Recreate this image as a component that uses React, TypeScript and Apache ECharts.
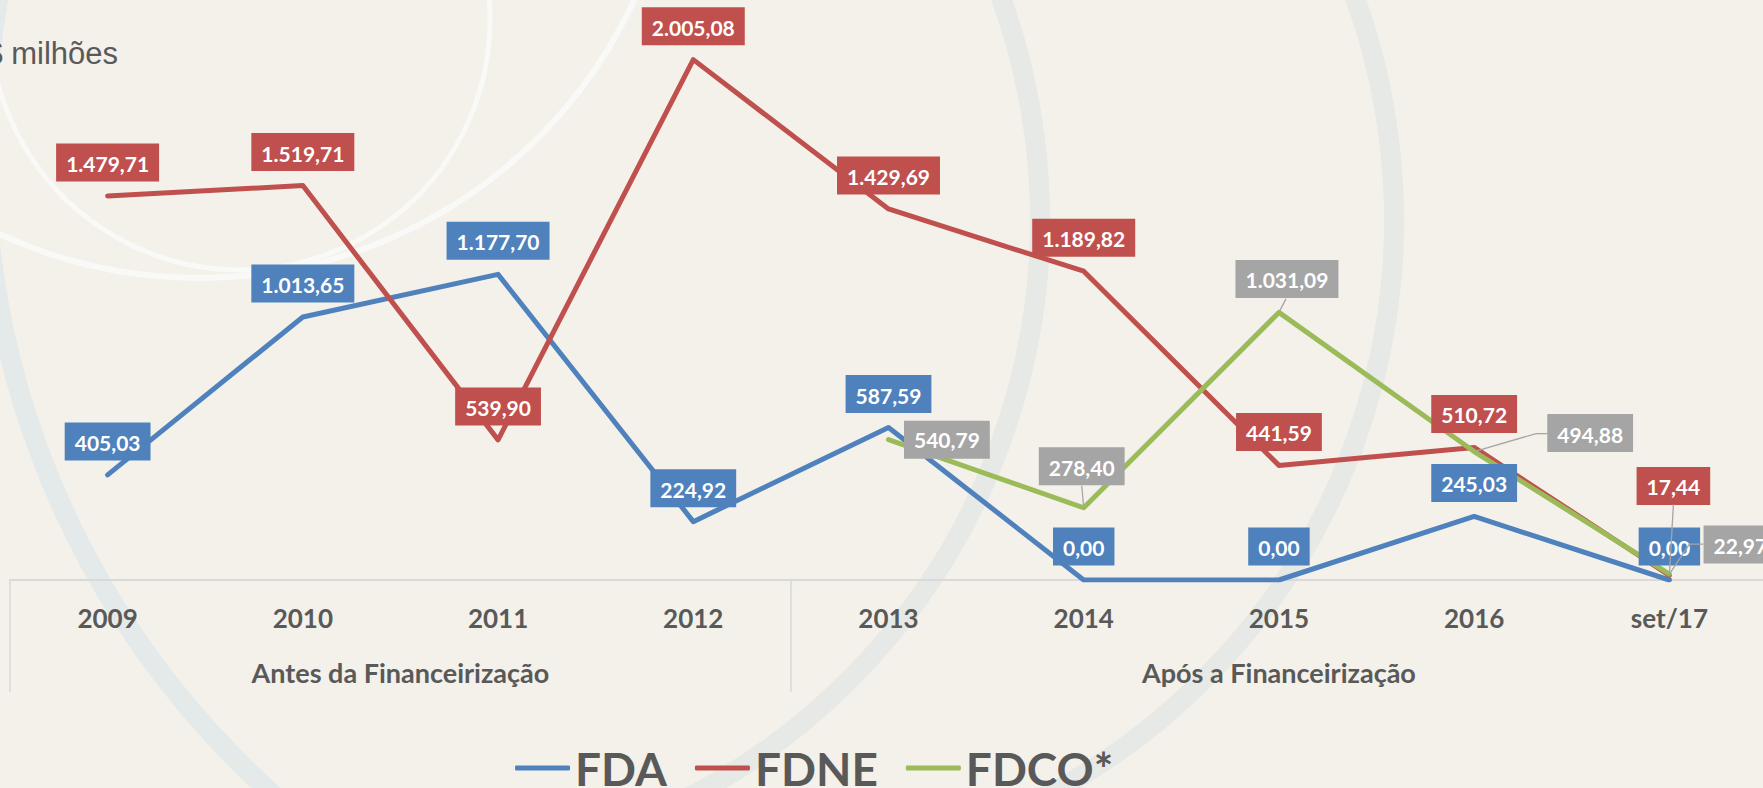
import React, { useEffect, useRef } from 'react';
import * as echarts from 'echarts';

// ---------- data ----------
const categories = ['2009', '2010', '2011', '2012', '2013', '2014', '2015', '2016', 'set/17'];
const groupLabels = ['Antes da Financeirização', 'Após a Financeirização'];
const groupCenters = [1.5, 6];
const groupBoundaries = [-0.5, 3.5, 8.5];
const seriesNames = ['FDA', 'FDNE', 'FDCO*'];
const fdaValues = [405.03, 1013.65, 1177.7, 224.92, 587.59, 0, 0, 245.03, 0];
const fdneValues = [1479.71, 1519.71, 539.9, 2005.08, 1429.69, 1189.82, 441.59, 510.72, 17.44];
const fdcoValues: (number | null)[] = [null, null, null, null, 540.79, 278.4, 1031.09, 494.88, 22.97];
const unitLabel = 'R$ milhões';

// ---------- styles ----------
const lineColors = ['#4F81BD', '#C0504D', '#9BBB59'];
const labelBg = ['#4F81BD', '#C0504D', '#A5A5A5'];
const textGray = '#595959';
const axisGray = '#D9D9D9';
const leaderGray = '#A5A5A5';
const bg = '#F3F1EA';

// per-point label placement (styles only): offsets in pixels relative to the default "top" spot,
// leader: polyline offsets in pixels relative to the data point
const labelTweaks: Record<string, Record<number, any>> = {
  'FDCO*': {
    4: { position: 'right', distance: 15 },
    5: { offset: [-2, -8], leader: [[0, 0], [-2, -22]] },
    6: { offset: [8, 0], leader: [[0, 0], [7, -13.5]] },
    7: { offset: [116, 15], leader: [[0, 0], [62, -18], [74, -18]] },
    8: { offset: [71, 4], leader: [[0, 0], [20, -30], [34, -30]] },
  },
  FDNE: {
    8: { offset: [4, -56], leader: [[0, 0], [4, -71]] },
  },
};

function fmt(v: number): string {
  const [i, d] = v.toFixed(2).split('.');
  return i.replace(/\B(?=(\d{3})+(?!\d))/g, '.') + ',' + d;
}

const allValues = [fdaValues, fdneValues, fdcoValues];

function buildData(values: (number | null)[], name: string) {
  return values.map((v, i) => {
    if (v == null) return '-';
    const t = labelTweaks[name] && labelTweaks[name][i];
    const item: any = { value: v };
    if (t) {
      item.label = {
        position: t.position || 'top',
        distance: t.distance != null ? t.distance : 14,
        offset: t.offset || [0, 0],
      };
    }
    return item;
  });
}

// leader definitions derived from the series values
const leaderPaths: number[][][] = [];
const leaderData: number[][] = [];
seriesNames.forEach((name, si) => {
  const tw = labelTweaks[name];
  if (!tw) return;
  Object.keys(tw).forEach((k) => {
    const idx = Number(k);
    if (tw[idx].leader) {
      const v = allValues[si][idx];
      if (v == null) return;
      leaderData.push([idx, v, leaderPaths.length]);
      leaderPaths.push(tw[idx].leader);
    }
  });
});

export default function App() {
  const ref = useRef<HTMLDivElement>(null);

  useEffect(() => {
    if (!ref.current) return;
    const chart = echarts.init(ref.current, null, { renderer: 'svg' });

    const series: any[] = seriesNames.map((name, si) => ({
      name,
      type: 'line',
      data: buildData(allValues[si], name),
      xAxisIndex: 0,
      yAxisIndex: 0,
      symbol: 'circle',
      symbolSize: 1,
      showSymbol: true,
      lineStyle: { color: lineColors[si], width: 5, cap: 'round', join: 'round' },
      itemStyle: { color: lineColors[si] },
      label: {
        show: true,
        position: 'top',
        distance: 14,
        formatter: (p: any) => fmt(Number(p.value)),
        color: '#FFFFFF',
        backgroundColor: labelBg[si],
        padding: [9, 10, 7, 10],
        fontFamily: 'Lato',
        fontWeight: 'bold',
        fontSize: 21,
        lineHeight: 22,
      },
      emphasis: { disabled: true },
      animation: false,
    }));

    series.push({
      name: 'leaders',
      type: 'custom',
      xAxisIndex: 0,
      yAxisIndex: 0,
      silent: true,
      z: 5,
      clip: false,
      encode: { x: 0, y: 1 },
      data: leaderData,
      renderItem: (params: any, api: any) => {
        const p = api.coord([api.value(0), api.value(1)]);
        const path = leaderPaths[api.value(2)];
        const points = path.map((o) => [p[0] + o[0], p[1] + o[1]]);
        return {
          type: 'polyline',
          shape: { points },
          style: { stroke: leaderGray, lineWidth: 1.3, fill: 'none' },
        };
      },
      animation: false,
    });

    const option: any = {
      animation: false,
      backgroundColor: bg,
      grid: {
        left: 10,
        top: 35,
        width: 1757,
        height: 545,
        containLabel: false,
        outerBoundsMode: 'none',
      },
      xAxis: [
        {
          type: 'category',
          data: categories,
          position: 'bottom',
          boundaryGap: true,
          axisLine: { show: true, lineStyle: { color: axisGray, width: 2 } },
          axisTick: { show: false },
          splitLine: { show: false },
          axisLabel: {
            interval: 0,
            margin: 25,
            color: textGray,
            fontFamily: 'Lato',
            fontWeight: 'bold',
            fontSize: 26,
            lineHeight: 26,
          },
        },
        {
          type: 'value',
          min: -0.5,
          max: 8.5,
          position: 'bottom',
          offset: 0,
          axisLine: { show: false },
          splitLine: { show: false },
          axisTick: {
            show: true,
            inside: false,
            length: 112,
            customValues: groupBoundaries,
            lineStyle: { color: axisGray, width: 1.5 },
          },
          axisLabel: {
            show: true,
            customValues: groupCenters,
            formatter: (v: number) => {
              const idx = groupCenters.indexOf(v);
              return idx >= 0 ? groupLabels[idx] : '';
            },
            margin: 79,
            color: textGray,
            fontFamily: 'Lato',
            fontWeight: 'bold',
            fontSize: 27,
            lineHeight: 27,
          },
        },
      ],
      yAxis: {
        type: 'value',
        min: 0,
        max: 2100,
        show: false,
        splitLine: { show: false },
      },
      legend: {
        data: seriesNames,
        left: 515,
        top: 745,
        padding: 0,
        itemGap: 28,
        itemWidth: 55,
        itemHeight: 5,
        icon: 'roundRect',
        selectedMode: false,
        textStyle: {
          fontFamily: 'Lato',
          fontWeight: 'bold',
          fontSize: 46,
          lineHeight: 46,
          color: textGray,
        },
      },
      graphic: [
        {
          type: 'arc',
          silent: true,
          z: -10,
          shape: { cx: 850, cy: 150, r: 865, startAngle: (118 * Math.PI) / 180, endAngle: (200 * Math.PI) / 180 },
          style: { fill: 'none', stroke: '#E4E9EA', lineWidth: 20 },
        },
        {
          type: 'circle',
          silent: true,
          z: -10,
          shape: { cx: 240, cy: 20, r: 250 },
          style: { fill: 'none', stroke: '#FAFAF8', lineWidth: 5, opacity: 0.9 },
        },
        {
          type: 'circle',
          silent: true,
          z: -10,
          shape: { cx: 200, cy: -200, r: 478 },
          style: { fill: 'none', stroke: '#FAFAF8', lineWidth: 6, opacity: 0.9 },
        },
        {
          type: 'arc',
          silent: true,
          z: -10,
          shape: { cx: 390, cy: 220, r: 650, startAngle: (-30 * Math.PI) / 180, endAngle: (65 * Math.PI) / 180 },
          style: { fill: 'none', stroke: '#E6E9E5', lineWidth: 20 },
        },
        {
          type: 'arc',
          silent: true,
          z: -10,
          shape: { cx: 744, cy: 220, r: 650, startAngle: (-30 * Math.PI) / 180, endAngle: (65 * Math.PI) / 180 },
          style: { fill: 'none', stroke: '#E6E9E5', lineWidth: 20 },
        },
        {
          type: 'text',
          silent: true,
          x: -37,
          y: 53,
          style: {
            text: unitLabel,
            fontFamily: 'Liberation Sans',
            fontSize: 31,
            fill: textGray,
            verticalAlign: 'middle',
          },
        },
      ],
      series,
    };

    chart.setOption(option);
    return () => chart.dispose();
  }, []);

  return (
    <div
      ref={ref}
      style={{ position: 'fixed', left: 0, top: 0, width: 1763, height: 788, background: bg }}
    />
  );
}
